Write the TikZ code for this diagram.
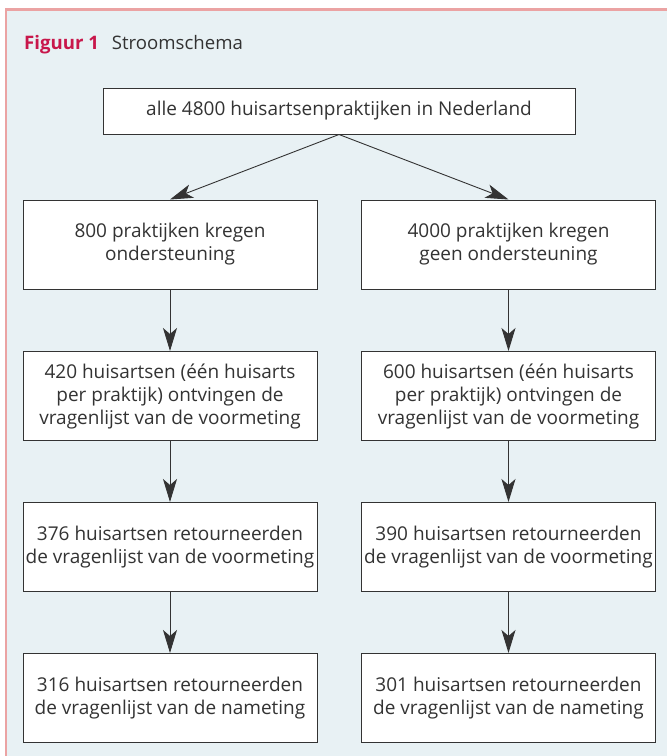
\documentclass[tikz,border=0pt]{standalone}
\usepackage{fontspec}
\setmainfont{Open Sans}[Ligatures=NoCommon]
\usetikzlibrary{arrows.meta}
\definecolor{bgblue}{HTML}{E8F1F4}
\definecolor{framepink}{HTML}{EBA3A3}
\definecolor{titlered}{HTML}{C8174B}
\definecolor{ink}{HTML}{333333}
\begin{document}
\begin{tikzpicture}[x=1pt,y=-1pt,
  box/.style={draw=ink, line width=1pt, fill=white, text=ink, align=center,
    inner sep=0pt, minimum width=294pt, minimum height=89pt,
    font=\fontsize{19}{23}\selectfont},
  flow/.style={draw=ink, line width=0.9pt, -{Stealth[length=23pt,width=14pt,inset=6pt]}}]
\useasboundingbox (0,0) rectangle (667,756);
\fill[white] (0,0) rectangle (667,756);
\fill[bgblue] (6,9.5) rectangle (667,756);
\draw[framepink, line width=2.5pt] (6,756) -- (6,9.5) -- (667,9.5);

\node[anchor=base west, inner sep=0pt, text=ink, font=\fontsize{18.6}{21}\selectfont] (title) at (24,49)
  {\textcolor{titlered}{\bfseries Figuur 1}\hspace{13pt}Stroomschema};

\node[box, minimum width=472pt, minimum height=46pt] (top) at (339,111)
  {alle 4800 huisartsenpraktijken in Nederland};

\node[box] (l2) at (170,244.5) {800 praktijken kregen\\ondersteuning};
\node[box] (r2) at (508.5,244.5) {4000 praktijken kregen\\geen ondersteuning};

\node[box] (l3) at (170,396) {420 huisartsen (één huisarts\\per praktijk) ontvingen de\\vragenlijst van de voormeting};
\node[box] (r3) at (508.5,396) {600 huisartsen (één huisarts\\per praktijk) ontvingen de\\vragenlijst van de voormeting};

\node[box] (l4) at (170,547) {376 huisartsen retourneerden\\de vragenlijst van de voormeting};
\node[box] (r4) at (508.5,547) {390 huisartsen retourneerden\\de vragenlijst van de voormeting};

\node[box] (l5) at (170,698) {316 huisartsen retourneerden\\de vragenlijst van de nameting};
\node[box] (r5) at (508.5,698) {301 huisartsen retourneerden\\de vragenlijst van de nameting};

\draw[flow] (top.south) -- (l2.north);
\draw[flow] (top.south) -- (r2.north);
\draw[flow] (l2) -- (l3);
\draw[flow] (r2) -- (r3);
\draw[flow] (l3) -- (l4);
\draw[flow] (r3) -- (r4);
\draw[flow] (l4) -- (l5);
\draw[flow] (r4) -- (r5);
\end{tikzpicture}
\end{document}
